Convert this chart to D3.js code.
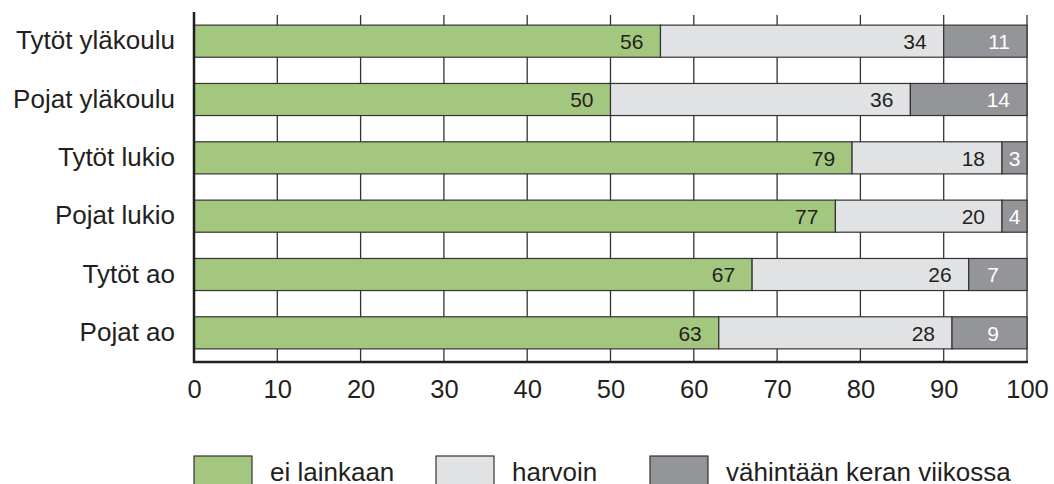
<!DOCTYPE html>
<html>
<head>
<meta charset="utf-8">
<script src="https://cdn.jsdelivr.net/npm/d3@7"></script>
<style>
    body { margin: 0; background: #fff; }
    svg text { font-family: "Liberation Sans", Arial, Helvetica, sans-serif; fill: #231f20; }
    .grid line { stroke: #333; stroke-width: 1.3px; }
    .seg { stroke: #333; stroke-width: 1.2px; }
</style>
</head>
<body>
<div id="chart"></div>
<script>
    // data
    var categories = ["Tytöt yläkoulu", "Pojat yläkoulu", "Tytöt lukio", "Pojat lukio", "Tytöt ao", "Pojat ao"];
    var eiLainkaan = [56, 50, 79, 77, 67, 63];
    var harvoin = [34, 36, 18, 20, 26, 28];
    var viikossa = [11, 14, 3, 4, 7, 9];
    var seriesNames = ["ei lainkaan", "harvoin", "vähintään keran viikossa"];
    var xTicks = [0, 10, 20, 30, 40, 50, 60, 70, 80, 90, 100];

    var colors = ["#a3c77f", "#e1e2e4", "#939598"];
    var textColors = ["#231f20", "#231f20", "#ffffff"];

    var width = 1054, height = 484;
    var keys = ["a", "b", "c"];

    var table = categories.map(function (c, i) {
        return { cat: c, a: eiLainkaan[i], b: harvoin[i], c: viikossa[i] };
    });

    var svg = d3.select("#chart").append("svg")
        .attr("width", width)
        .attr("height", height);

    var x = d3.scaleLinear().domain([0, 100]).range([194, 1027]).clamp(true);
    var y = d3.scaleBand().domain(categories).range([12, 362])
        .paddingInner(0.45).paddingOuter(0.225);

    // vertical grid lines (behind the bars)
    svg.append("g").attr("class", "grid")
        .selectAll("line")
        .data(xTicks.slice(1))
        .enter().append("line")
        .attr("x1", d => x(d)).attr("x2", d => x(d))
        .attr("y1", 15).attr("y2", 362);

    var stacked = d3.stack().keys(keys)(table);

    var layer = svg.selectAll("g.layer")
        .data(stacked)
        .enter().append("g")
        .attr("class", "layer");

    layer.selectAll("rect")
        .data(d => d)
        .enter().append("rect")
        .attr("class", "seg")
        .attr("x", d => x(d[0]))
        .attr("y", d => y(d.data.cat))
        .attr("width", d => x(d[1]) - x(d[0]))
        .attr("height", y.bandwidth())
        .attr("fill", function () { return colors[this.parentNode.__data__.index]; });

    // value labels
    layer.each(function (s, si) {
        d3.select(this).selectAll("text")
            .data(s)
            .enter().append("text")
            .attr("y", d => y(d.data.cat) + y.bandwidth() / 2)
            .attr("dy", "0.37em")
            .style("font-size", "21px")
            .style("fill", textColors[si])
            .each(function (d) {
                var v = d.data[s.key];
                var x0 = x(d[0]), x1 = x(d[1]);
                var t = d3.select(this).text(v);
                if (x1 - x0 < 40) {
                    t.attr("x", (x0 + x1) / 2).attr("text-anchor", "middle");
                } else {
                    t.attr("x", x1 - 17 - (v < 10 ? 11 : 0)).attr("text-anchor", "end");
                }
            });
    });

    // axes
    var xAxis = svg.append("g")
        .attr("transform", "translate(0,362)")
        .call(d3.axisBottom(x).tickValues(xTicks).tickSize(0).tickPadding(18));
    xAxis.select(".domain").remove();
    xAxis.selectAll("text").style("font-size", "25.5px").style("fill", "#231f20");

    var yAxis = svg.append("g")
        .attr("transform", "translate(194,0)")
        .call(d3.axisLeft(y).tickSize(0).tickPadding(19));
    yAxis.select(".domain").remove();
    yAxis.selectAll("text").style("font-size", "26px").style("fill", "#231f20");

    svg.append("line")
        .attr("x1", x(0)).attr("x2", x(0))
        .attr("y1", 12).attr("y2", 363)
        .attr("stroke", "#231f20").attr("stroke-width", 2.5);
    svg.append("line")
        .attr("x1", x(0) - 1).attr("x2", x(100) + 1)
        .attr("y1", 362).attr("y2", 362)
        .attr("stroke", "#231f20").attr("stroke-width", 2.5);

    // legend
    var legendX = [194, 436, 650];
    var legend = svg.selectAll("g.legend")
        .data(seriesNames)
        .enter().append("g")
        .attr("class", "legend")
        .attr("transform", (d, i) => "translate(" + legendX[i] + ",456)");
    legend.append("rect")
        .attr("width", 58).attr("height", 32)
        .attr("fill", (d, i) => colors[i])
        .attr("stroke", "#333").attr("stroke-width", 1.2);
    legend.append("text")
        .attr("x", 76).attr("y", 25)
        .style("font-size", "26px")
        .text(d => d);
</script>
</body>
</html>
